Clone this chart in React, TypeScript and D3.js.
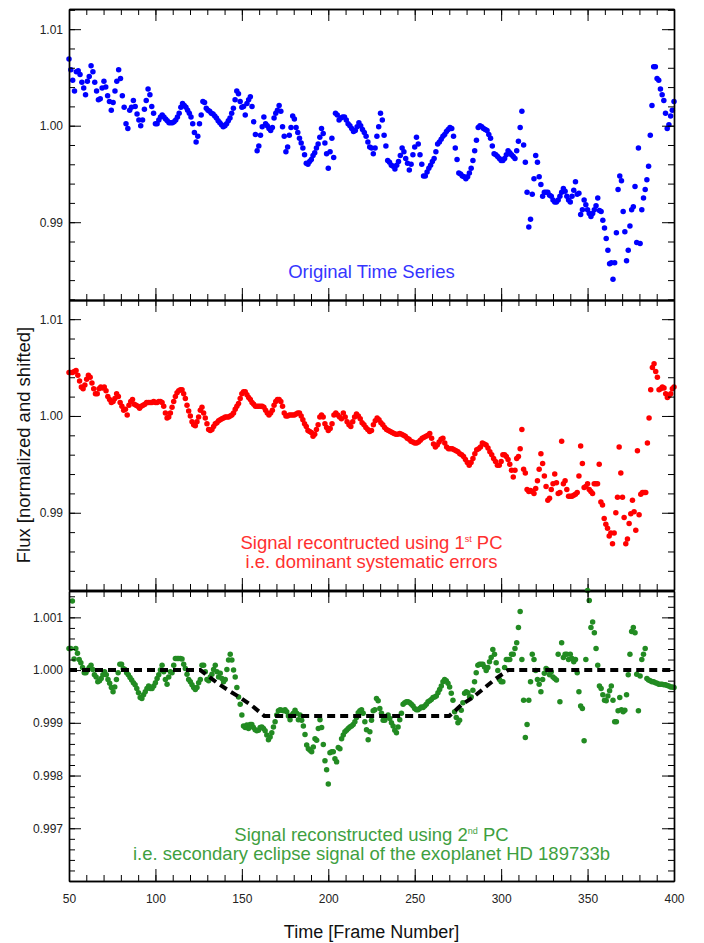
import React, { useEffect, useRef } from "react";
import * as d3 from "d3";

// each flux list is split into 50-frame blocks starting at these frames
const blockStarts = [50, 100, 150, 200, 250, 300, 350];

// original time series, offset from 1.0 in units of 1e-4
const origFlux = [
  [69, 58, 47, 36, 56, 57, 53, 45, 39, 32, 46, 51, 62, 56, 45, 36, 27, 28, 39, 46, 40, 31, 25, 16, 24, 36, 46, 58, 49, 31, 19, 2, -3, 16, 19, 26, 20, 12, 6, 0, 6, 17, 26, 38, 32, 20, 13],
  [2, 2, 6, 9, 11, 9, 7, 5, 3, 3, 3, 4, 6, 9, 13, 19, 23, 21, 19, 16, 13, 9, 2, -7, -17, -11, 2, 11, 25, 24, 18, 16, 15, 13, 12, 10, 8, 5, 3, 1, -1, 0, 2, 5, 8, 13, 18, 27, 36, 33, 25],
  [19, 20, 11, 23, 27, 30, 20, 4, -9, -26, -21, -10, -1, 9, 2, 0, -3, -5, -2, 8, 13, 16, 21, 15, -1, -11, -27, -22, -10, -2, 10, 7, -2, -7, -13, -18, -23, -30, -39, -40, -37, -35, -31, -28, -23, -19, -12, -3, -8, -18, -29],
  [-44, -27, -13, -33, 13, 11, 6, 8, 9, 9, 6, 2, 0, -3, -6, -5, -1, 3, 0, -4, -7, -11, -17, -22, -23, -29, -23, -11, -1, 13, 6, -10, -21, -36, -38, -41, -42, -45, -41, -37, -31, -23, -27, -34, -39, -46, -40, -30],
  [-22, -12, -19, -30, -40, -52, -52, -48, -44, -41, -37, -34, -27, -19, -17, -14, -11, -9, -6, -4, -2, -3, -11, -23, -35, -49, -50, -52, -53, -55, -53, -49, -44, -36, -26, -15, -2, 0, -1, -3, -4, -5, -9, -13, -21, -29, -30, -32, -34],
  [-36, -36, -34, -30, -26, -28, -30, -32, -34, -26, -16, -2, 15, -20, -38, -69, -105, -97, -71, -55, -31, -38, -53, -61, -73, -69, -69, -69, -72, -73, -77, -79, -79, -77, -73, -69, -65, -68, -73, -77, -79, -73, -67, -58, -71, -70, -92, -87, -77, -82],
  [-87, -91, -94, -91, -87, -83, -75, -88, -89, -98, -106, -117, -129, -143, -142, -159, -142, -111, -66, -52, -57, -89, -110, -140, -129, -104, -87, -84, -63, -121, -23, -122, -87, -75, -66, -56, -42, -10, 21, 61, 61, 49, 47, 38, 32, 26, 13, -3, 1, 10, 16, 25],
];

// signal from the 1st PC, offset from 1.0 in units of 1e-4
const pc1Flux = [
  [45, 45, 45, 46, 47, 42, 36, 30, 28, 32, 38, 42, 40, 34, 28, 23, 23, 28, 30, 29, 30, 26, 20, 17, 14, 15, 18, 23, 20, 14, 10, 6, 7, 1, 11, 15, 17, 12, 11, 10, 8, 10, 11, 12, 14, 14, 14, 14, 15],
  [14, 14, 15, 15, 14, 10, 3, -2, -1, 3, 9, 15, 20, 24, 26, 27, 27, 23, 18, 11, 5, 0, -6, -9, -10, -6, -1, 6, 9, 3, -2, -8, -14, -15, -14, -11, -8, -7, -5, -4, -3, -2, -1, -1, -1, 0, 1, 3, 7, 10, 13, 18],
  [23, 25, 25, 22, 19, 17, 14, 12, 10, 10, 10, 10, 10, 9, 6, 3, 1, 3, 6, 11, 15, 17, 17, 15, 10, 3, 0, 0, 1, 1, 1, 1, 2, 3, 3, 0, -4, -8, -11, -15, -16, -17, -21, -19, -14, -9, -1, 1, -1, -8, -12],
  [-15, -13, -8, 1, 3, 1, -1, -3, 3, -1, -6, -9, -11, -6, -1, 2, 0, -3, -7, -9, -12, -14, -16, -15, -9, -5, -2, -4, -7, -9, -12, -14, -15, -16, -17, -18, -19, -19, -18, -19, -20, -21, -23, -24, -26, -27],
  [-28, -28, -27, -25, -23, -22, -21, -20, -18, -23, -29, -32, -30, -27, -24, -23, -28, -32, -34, -34, -34, -35, -36, -37, -39, -40, -42, -45, -48, -51, -48, -44, -39, -35, -34, -32, -28, -29, -30, -33, -37, -40, -44, -47, -51, -51],
  [-47, -40, -40, -42, -45, -50, -56, -63, -56, -44, -42, -34, -14, -55, -59, -76, -78, -77, -78, -80, -75, -67, -55, -39, -49, -62, -73, -87, -85, -76, -70, -60, -69, -80, -79, -26, -70, -67, -76, -83, -83, -83, -82, -81, -79, -62, -31, -49, -74, -73],
  [-70, -76, -78, -80, -70, -70, -70, -50, -89, -92, -106, -112, -116, -124, -121, -132, -121, -100, -84, -32, -59, -84, -105, -132, -127, -111, -101, -87, -99, -118, -36, -102, -81, -79, -79, -79, -28, -2, 27, 50, 54, 46, 40, 27, 28, 30, 29, 23, 19, 21, 23, 28, 30],
];

// signal from the 2nd PC, offset from 1.0 in units of 1e-5
const pc2Flux = [
  [41, 41, 131, 21, 41, 32, 20, 14, 5, -5, -5, 0, 5, 9, 1, -9, -13, -22, -20, -16, -9, -3, -9, -18, -25, -33, -41, -32, -18, -5, 11, 11, 3, 1, -5, -9, -14, -19, -24, -28, -35, -43, -52, -54, -47, -41, -35, -30, -35, -35, -30],
  [-24, -16, -9, 0, 9, -3, -18, -27, -13, -3, -5, 9, 22, 22, 22, 22, 21, 11, 3, -8, -18, -22, -28, -33, -37, -33, -24, -18, 9, 9, -3, -18, -20, -13, -8, 1, 9, -3, -13, -6, -16, -22, -18, 1, 19, 30, 19, 0, -13, -33, -51, -65],
  [-85, -106, -109, -104, -111, -103, -103, -109, -113, -115, -114, -109, -108, -111, -115, -123, -132, -127, -119, -108, -98, -85, -77, -75, -76, -77, -75, -79, -87, -94, -85, -82, -76, -82, -94, -85, -95, -106, -122, -142, -149, -152, -155, -146, -130, -133, -111, -94, -109, -141, -172, -189],
  [-216, -157, -155, -155, -168, -174, -147, -149, -130, -123, -117, -114, -111, -108, -106, -103, -98, -90, -81, -77, -75, -82, -98, -113, -132, -117, -95, -77, -75, -54, -58, -73, -82, -95, -95, -89, -85, -92, -100, -106, -114, -119, -108, -94, -82, -65, -62, -60, -60, -62, -65, -68],
  [-73, -75, -75, -73, -70, -71, -68, -65, -60, -58, -56, -52, -51, -49, -43, -37, -30, -22, -18, -20, -25, -32, -44, -57, -79, -90, -100, -95, -76, -62, -44, -41, -43, -51, -51, -38, -22, -5, 9, 11, 11, 11, 6, -1, 5, 16, 24, 39, 30, 14, -1, -18],
  [-22, -22, 5, 20, 20, 20, 30, 30, 41, 52, 81, 111, 20, -57, -128, -103, -57, -22, 30, 20, -1, -18, -27, -41, -18, -6, 3, 0, -9, -3, -13, -16, -19, 30, -60, 52, 24, 30, 30, 20, 30, 22, 16, 20, -5, -41, -68, -73, -134, 20],
  [151, 132, 81, 91, 71, 41, 9, -30, -35, -47, -57, -58, -49, -39, -30, -57, -98, -98, -77, -52, -75, -79, -76, -47, -9, 30, 73, 81, 71, -8, -77, -11, 20, 30, 41, -16, -19, -20, -22, -22, -24, -25, -27, -27, -27, -28, -28, -29, -30, -32, -32, -33],
];

// eclipse model (dashed)
const modelFrames = [50, 126, 130, 136, 143, 149, 156, 163, 270, 277, 284, 291, 297, 304, 400];
const modelFlux = [1.0, 1.0, 0.9999, 0.99975, 0.9996, 0.99948, 0.99932, 0.99913, 0.99913, 0.99934, 0.99949, 0.99968, 0.99984, 1.0, 1.0];

const frameTicks = [50, 100, 150, 200, 250, 300, 350, 400];
const fluxTicksWide = [0.99, 1.0, 1.01];
const fluxTicksNarrow = [0.997, 0.998, 0.999, 1.0, 1.001];

const FONT = "'Liberation Sans', Arial, Helvetica, sans-serif";

function toPoints(blocks, unit) {
  var pts = [];
  blocks.forEach((vals, k) => {
    var last = k === blocks.length - 1;
    var step = 50 / (last ? vals.length - 1 : vals.length);
    vals.forEach((v, i) => {
      pts.push({ frame: blockStarts[k] + i * step, flux: 1 + v * unit });
    });
  });
  return pts;
}

export default function App() {
  const ref = useRef(null);

  useEffect(() => {
    var svg = d3.select(ref.current);
    svg.selectAll("*").remove();

    var left = 69,
      right = 674;

    var x = d3.scaleLinear().domain([50, 400]).range([left, right]);
    var xMinor = d3.range(50, 401, 10);

    var panels = [
      {
        top: 9,
        bottom: 300,
        domain: [0.98194, 1.01209],
        majors: fluxTicksWide,
        minors: d3.range(491, 507).map(i => i * 0.002),
        fmt: d3.format(".2f"),
        color: "#0000ff",
        textColor: "#3535ff",
        points: toPoints(origFlux, 1e-4),
        lines: [["Original Time Series"]],
        textY: 278
      },
      {
        top: 300,
        bottom: 590,
        domain: [0.98202, 1.01198],
        majors: fluxTicksWide,
        minors: d3.range(491, 507).map(i => i * 0.002),
        fmt: d3.format(".2f"),
        color: "#ff0000",
        textColor: "#ff3030",
        points: toPoints(pc1Flux, 1e-4),
        lines: [
          ["Signal recontructed using 1", "st", " PC"],
          ["i.e. dominant systematic errors"]
        ],
        textY: 549
      },
      {
        top: 591,
        bottom: 881,
        domain: [0.996, 1.0015],
        majors: fluxTicksNarrow,
        minors: d3.range(4980, 5008).map(i => i * 0.0002),
        fmt: d3.format(".3f"),
        color: "#228b22",
        textColor: "#3f9f3f",
        points: toPoints(pc2Flux, 1e-5),
        lines: [
          ["Signal reconstructed using 2", "nd", " PC"],
          ["i.e. secondary eclipse signal of the exoplanet HD 189733b"]
        ],
        textY: 841,
        model: true
      }
    ];

    panels.forEach((p, idx) => {
      var y = d3.scaleLinear().domain(p.domain).range([p.bottom, p.top]);
      var g = svg.append("g");
      var last = idx === panels.length - 1;

      // data points
      g.append("g")
        .selectAll("circle")
        .data(p.points)
        .enter()
        .append("circle")
        .attr("cx", d => x(d.frame))
        .attr("cy", d => y(d.flux))
        .attr("r", 2.75)
        .style("fill", p.color);

      if (p.model) {
        var line = d3
          .line()
          .x(d => x(d[0]))
          .y(d => y(d[1]));
        g.append("path")
          .attr("d", line(d3.zip(modelFrames, modelFlux)))
          .style("fill", "none")
          .style("stroke", "#000")
          .style("stroke-width", 4)
          .style("stroke-dasharray", "8,5");
      }

      // left axis: majors with labels, minors without
      var yl = g.append("g").attr("transform", "translate(" + left + ",0)");
      yl.call(d3.axisLeft(y).tickValues(p.majors).tickSizeInner(-12).tickSizeOuter(0).tickPadding(6).tickFormat(p.fmt));
      yl.append("g").call(d3.axisLeft(y).tickValues(p.minors).tickSizeInner(-6).tickSizeOuter(0).tickFormat(() => ""));
      yl.selectAll("text").style("font-family", FONT).style("font-size", "12px").style("fill", "#222");

      // right axis
      var yr = g.append("g").attr("transform", "translate(" + right + ",0)");
      yr.call(d3.axisRight(y).tickValues(p.majors).tickSizeInner(-12).tickSizeOuter(0).tickFormat(() => ""));
      yr.append("g").call(d3.axisRight(y).tickValues(p.minors).tickSizeInner(-6).tickSizeOuter(0).tickFormat(() => ""));

      // bottom axis
      var xb = g.append("g").attr("transform", "translate(0," + p.bottom + ")");
      xb.call(
        d3.axisBottom(x).tickValues(frameTicks).tickSizeInner(-12).tickSizeOuter(0).tickPadding(13)
          .tickFormat(last ? d3.format("d") : () => "")
      );
      xb.append("g").call(d3.axisBottom(x).tickValues(xMinor).tickSizeInner(-6).tickSizeOuter(0).tickFormat(() => ""));
      xb.selectAll("text").style("font-family", FONT).style("font-size", "12px").style("fill", "#222");

      // top axis
      var xt = g.append("g").attr("transform", "translate(0," + p.top + ")");
      xt.call(d3.axisTop(x).tickValues(frameTicks).tickSizeInner(-12).tickSizeOuter(0).tickFormat(() => ""));
      xt.append("g").call(d3.axisTop(x).tickValues(xMinor).tickSizeInner(-6).tickSizeOuter(0).tickFormat(() => ""));

      g.selectAll(".domain").style("stroke-width", 1.4);

      // panel caption
      p.lines.forEach((parts, li) => {
        var t = g
          .append("text")
          .attr("x", (left + right) / 2)
          .attr("y", p.textY + li * 19)
          .attr("text-anchor", "middle")
          .style("font-family", FONT)
          .style("font-size", "18.5px")
          .style("fill", p.textColor);
        t.append("tspan").text(parts[0]);
        if (parts.length > 1) {
          t.append("tspan").attr("dy", -7).style("font-size", "9px").text(parts[1]);
          t.append("tspan").attr("dy", 7).text(parts[2]);
        }
      });
    });

    // axis titles
    svg
      .append("text")
      .attr("transform", "translate(30,445) rotate(-90)")
      .attr("text-anchor", "middle")
      .style("font-family", FONT)
      .style("font-size", "18.5px")
      .style("fill", "#111")
      .text("Flux [normalized and shifted]");

    svg
      .append("text")
      .attr("x", (left + right) / 2)
      .attr("y", 938)
      .attr("text-anchor", "middle")
      .style("font-family", FONT)
      .style("font-size", "18px")
      .style("fill", "#111")
      .text("Time [Frame Number]");
  }, []);

  return (
    <svg
      ref={ref}
      width={704}
      height={943}
      style={{ position: "absolute", left: 0, top: 0, background: "#fff" }}
    />
  );
}
